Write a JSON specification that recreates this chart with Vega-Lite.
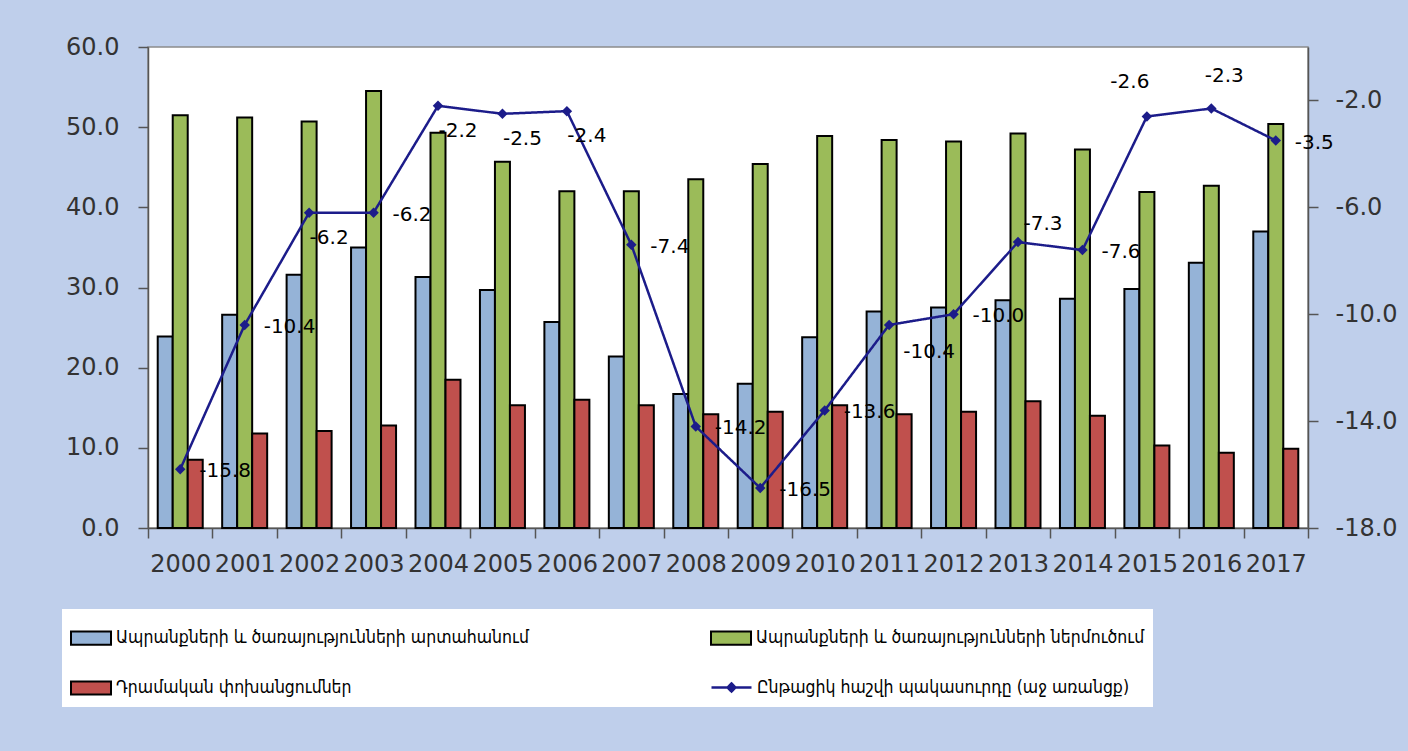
{
  "$schema": "https://vega.github.io/schema/vega-lite/v6.json",
  "width": 1160,
  "height": 481,
  "autosize": {"type": "none"},
  "padding": {"left": 148, "top": 47, "right": 100, "bottom": 223},
  "background": "#bfcfeb",
  "config": {
    "locale": {"number": {"decimal": ".", "thousands": ",", "grouping": [3], "currency": ["$", ""], "minus": "-"}},
    "view": {"fill": "white", "stroke": "#8c8c8c", "strokeWidth": 1.5},
    "font": "DejaVu Sans",
    "axis": {
      "labelFont": "DejaVu Sans",
      "labelFontSize": 24,
      "labelColor": "#333333",
      "domainColor": "#555555",
      "domainWidth": 1.5,
      "tickColor": "#555555",
      "tickWidth": 1.5,
      "tickSize": 10,
      "grid": false,
      "title": null
    }
  },
  "data": {
    "values": [
      {"year": "2000", "exports": 23.9, "imports": 51.5, "remittances": 8.5, "deficit": -15.8},
      {"year": "2001", "exports": 26.6, "imports": 51.2, "remittances": 11.8, "deficit": -10.4},
      {"year": "2002", "exports": 31.6, "imports": 50.7, "remittances": 12.1, "deficit": -6.2},
      {"year": "2003", "exports": 35.0, "imports": 54.5, "remittances": 12.8, "deficit": -6.2},
      {"year": "2004", "exports": 31.3, "imports": 49.3, "remittances": 18.5, "deficit": -2.2},
      {"year": "2005", "exports": 29.7, "imports": 45.7, "remittances": 15.3, "deficit": -2.5},
      {"year": "2006", "exports": 25.7, "imports": 42.0, "remittances": 16.0, "deficit": -2.4},
      {"year": "2007", "exports": 21.4, "imports": 42.0, "remittances": 15.3, "deficit": -7.4},
      {"year": "2008", "exports": 16.7, "imports": 43.5, "remittances": 14.2, "deficit": -14.2},
      {"year": "2009", "exports": 18.0, "imports": 45.4, "remittances": 14.5, "deficit": -16.5},
      {"year": "2010", "exports": 23.8, "imports": 48.9, "remittances": 15.3, "deficit": -13.6},
      {"year": "2011", "exports": 27.0, "imports": 48.4, "remittances": 14.2, "deficit": -10.4},
      {"year": "2012", "exports": 27.5, "imports": 48.2, "remittances": 14.5, "deficit": -10.0},
      {"year": "2013", "exports": 28.4, "imports": 49.2, "remittances": 15.8, "deficit": -7.3},
      {"year": "2014", "exports": 28.6, "imports": 47.2, "remittances": 14.0, "deficit": -7.6},
      {"year": "2015", "exports": 29.8, "imports": 41.9, "remittances": 10.3, "deficit": -2.6},
      {"year": "2016", "exports": 33.1, "imports": 42.7, "remittances": 9.4, "deficit": -2.3},
      {"year": "2017", "exports": 37.0, "imports": 50.4, "remittances": 9.9, "deficit": -3.5}
    ]
  },
  "encoding": {
    "x": {
      "field": "year",
      "type": "nominal",
      "scale": {"paddingInner": 0, "paddingOuter": 0},
      "axis": {"labelAngle": 0, "tickBand": "extent", "labelPadding": 14}
    }
  },
  "layer": [
    {
      "transform": [{"fold": ["exports", "imports", "remittances"], "as": ["series", "value"]}],
      "mark": {"type": "bar", "stroke": "black", "strokeWidth": 2},
      "encoding": {
        "xOffset": {
          "field": "series",
          "type": "nominal",
          "scale": {"domain": ["exports", "imports", "remittances"], "paddingInner": 0, "paddingOuter": 0.648}
        },
        "y": {
          "field": "value",
          "type": "quantitative",
          "scale": {"domain": [0, 60], "nice": false},
          "axis": {"orient": "left", "values": [0, 10, 20, 30, 40, 50, 60], "format": ".1f", "labelPadding": 19}
        },
        "color": {
          "field": "series",
          "type": "nominal",
          "scale": {
            "domain": ["exports", "imports", "remittances"],
            "range": ["#95b3d7", "#9bbb59", "#c0504d"]
          },
          "legend": {
            "orient": "none",
            "legendX": -86,
            "legendY": 562,
            "direction": "horizontal",
            "columns": 2,
            "title": null,
            "fillColor": "white",
            "padding": 8,
            "columnPadding": 178,
            "rowPadding": 18,
            "zindex": 1,
            "labelFont": "DejaVu Sans Condensed",
            "labelFontSize": 17.5,
            "labelColor": "black",
            "labelLimit": 600,
            "labelOffset": 4,
            "symbolType": "M-1,-0.33H1V0.33H-1Z",
            "symbolSize": 1600,
            "symbolStrokeColor": "black",
            "symbolStrokeWidth": 2,
            "symbolOpacity": 1,
            "labelExpr": "datum.value === 'exports' ? 'Ապրանքների և ծառայությունների արտահանում' : datum.value === 'imports' ? 'Ապրանքների և ծառայությունների ներմուծում' : 'Դրամական փոխանցումներ'"
          }
        }
      }
    },
    {
      "encoding": {
        "y": {
          "field": "deficit",
          "type": "quantitative",
          "scale": {"domain": [-18, 0], "nice": false},
          "axis": {"orient": "right", "values": [-18, -14, -10, -6, -2], "format": ".1f", "labelPadding": 17}
        }
      },
      "layer": [
        {
          "mark": {"type": "line", "strokeWidth": 2.5, "color": "#1c1c8a"},
          "encoding": {
            "strokeDash": {
              "datum": "deficit",
              "type": "nominal",
              "scale": {"domain": ["deficit"], "range": [[1, 0]]},
              "legend": {
                "orient": "none",
                "legendX": 562,
                "legendY": 619,
                "title": null,
                "padding": 0,
                "zindex": 2,
                "labelFont": "DejaVu Sans Condensed",
                "labelFontSize": 17.5,
                "labelColor": "black",
                "labelLimit": 600,
                "labelOffset": 4,
                "symbolType": "M-1,0H1M-0.2,0L0,-0.2L0.2,0L0,0.2Z",
                "symbolSize": 1600,
                "symbolStrokeColor": "#1c1c8a",
                "symbolFillColor": "#1c1c8a",
                "symbolStrokeWidth": 2.5,
                "symbolOpacity": 1,
                "labelExpr": "'Ընթացիկ հաշվի պակասուրդը (աջ առանցք)'"
              }
            }
          }
        },
        {
          "mark": {"type": "point", "shape": "diamond", "filled": true, "size": 110, "color": "#1c1c8a", "opacity": 1}
        },
        {
          "transform": [{"filter": {"not": {"field": "year", "oneOf": ["2002", "2004", "2005", "2006", "2011", "2013", "2015", "2016"]}}}],
          "mark": {"type": "text", "align": "left", "baseline": "middle", "dx": 19, "dy": 2, "fontSize": 20, "color": "black"},
          "encoding": {"text": {"field": "deficit", "type": "quantitative", "format": ".1f"}}
        },
        {
          "transform": [{"filter": {"field": "year", "oneOf": ["2002", "2004", "2005", "2006"]}}],
          "mark": {"type": "text", "align": "center", "baseline": "middle", "dx": 20, "dy": 25, "fontSize": 20, "color": "black"},
          "encoding": {"text": {"field": "deficit", "type": "quantitative", "format": ".1f"}}
        },
        {
          "transform": [{"filter": {"field": "year", "oneOf": ["2011"]}}],
          "mark": {"type": "text", "align": "center", "baseline": "middle", "dx": 40, "dy": 27, "fontSize": 20, "color": "black"},
          "encoding": {"text": {"field": "deficit", "type": "quantitative", "format": ".1f"}}
        },
        {
          "transform": [{"filter": {"field": "year", "oneOf": ["2013"]}}],
          "mark": {"type": "text", "align": "center", "baseline": "middle", "dx": 25, "dy": -18, "fontSize": 20, "color": "black"},
          "encoding": {"text": {"field": "deficit", "type": "quantitative", "format": ".1f"}}
        },
        {
          "transform": [{"filter": {"field": "year", "oneOf": ["2015"]}}],
          "mark": {"type": "text", "align": "center", "baseline": "middle", "dx": -17, "dy": -34, "fontSize": 20, "color": "black"},
          "encoding": {"text": {"field": "deficit", "type": "quantitative", "format": ".1f"}}
        },
        {
          "transform": [{"filter": {"field": "year", "oneOf": ["2016"]}}],
          "mark": {"type": "text", "align": "center", "baseline": "middle", "dx": 13, "dy": -32, "fontSize": 20, "color": "black"},
          "encoding": {"text": {"field": "deficit", "type": "quantitative", "format": ".1f"}}
        }
      ]
    }
  ],
  "resolve": {"scale": {"y": "independent"}}
}
